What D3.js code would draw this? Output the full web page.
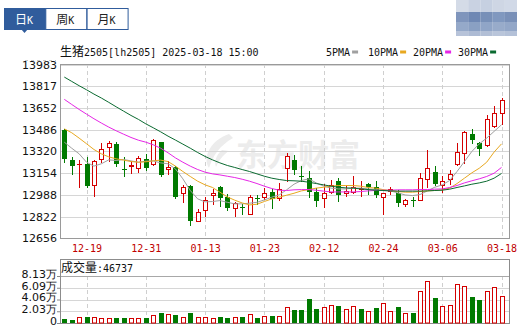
<!DOCTYPE html>
<html>
<head>
<meta charset="utf-8">
<script src="https://cdn.jsdelivr.net/npm/d3@7"></script>
<style>
  body { margin: 0; background: #fff; }
  svg { display: block; }
</style>
</head>
<body>
<svg id="kline" width="517" height="330"></svg>
<script>
// Trading days shown (one candle each)
const dates = ["12-16","12-17","12-18","12-19","12-20","12-23","12-24","12-25","12-26","12-27","12-30","12-31",
  "01-02","01-03","01-06","01-07","01-08","01-09","01-10","01-13","01-14","01-15","01-16","01-17","01-20","01-21","01-22","01-23","01-24","01-27",
  "02-05","02-06","02-07","02-10","02-11","02-12","02-13","02-14","02-17","02-18","02-19","02-20","02-21","02-24","02-25","02-26","02-27","02-28",
  "03-03","03-04","03-05","03-06","03-07","03-10","03-11","03-12","03-13","03-14","03-17","03-18"];

const opens  = [13485,13255,13220,13220,13060,13260,13350,13375,13185,13205,13195,13265,13220,13390,13185,13200,13005,13055,12790,12875,
                12990,13045,12970,12885,12895,12845,12965,12970,13010,12965,13190,13255,13135,13120,13010,12965,13010,13090,13005,13010,
                13030,13070,13045,12970,13020,13005,12920,12950,12950,13110,13160,13060,13105,13220,13305,13455,13380,13365,13510,13610];
const highs  = [13490,13280,13255,13275,13255,13380,13400,13390,13280,13250,13285,13300,13415,13395,13250,13205,13065,13065,12880,12970,
                13035,13055,12995,12935,12920,12990,12990,13040,13030,13080,13305,13290,13205,13170,13040,13070,13100,13120,13065,13130,
                13090,13075,13090,13000,13045,13025,12955,12970,13155,13330,13205,13130,13180,13380,13475,13490,13390,13595,13665,13725];
const lows   = [13240,13150,13050,13045,12980,13235,13250,13205,13130,13155,13160,13180,13215,13135,13145,12965,12930,12760,12785,12825,
                12920,12905,12870,12830,12845,12840,12920,12955,12890,12950,13090,13150,13090,12975,12900,12895,13000,12940,12980,13005,
                12980,12995,12975,12840,12995,12905,12905,12905,12950,13045,13060,13010,13070,13215,13230,13385,13290,13360,13505,13525];
const closes = [13265,13205,13225,13055,13250,13340,13385,13225,13175,13215,13270,13195,13405,13140,13200,12975,13050,12790,12860,12950,
                13005,12965,12885,12925,12885,12975,12955,13000,12955,13035,13285,13180,13125,13010,12940,13000,13065,12990,13015,13045,
                13040,13050,12990,13000,13030,12925,12945,12940,13120,13195,13070,13090,13145,13315,13465,13410,13340,13565,13610,13710];
const volumes = [7500,5770,10380,10960,10380,9230,9230,9230,9230,8650,8080,8080,13270,17890,15580,14420,9810,17890,10960,10960,
                 9230,10960,9230,10960,10960,15580,8650,12120,12690,12120,27700,23080,23080,42120,24810,27700,31160,30000,24810,29430,
                 24810,21350,26540,35200,21350,28270,17310,17310,55970,72700,43280,30000,31160,68090,64620,45580,39240,55970,62320,46737];

// Moving averages
const ma5  = [13390,13344,13301,13237,13207,13225,13255,13250,13258,13247,13237,13245,13247,13232,13225,13186,13110,13021,12957,12934,
              12937,12944,12931,12919,12919,12924,12931,12949,12970,12987,13026,13069,13097,13110,13079,13054,13039,13033,13033,13039,
              13039,13033,13028,13021,13018,13003,12987,12982,12990,13018,13046,13064,13097,13166,13242,13319,13377,13421,13472,13523];
const ma10 = [13492,13462,13421,13378,13334,13301,13278,13263,13253,13242,13237,13240,13247,13253,13242,13207,13166,13128,13092,13064,
              13044,13008,12972,12947,12926,12911,12916,12937,12957,12970,12985,13000,13018,13028,13039,13046,13054,13059,13059,13059,
              13054,13044,13039,13028,13021,13013,13008,13008,13013,13018,13021,13026,13039,13074,13115,13156,13191,13237,13314,13377];
const ma20 = [13717,13678,13640,13604,13569,13536,13505,13477,13451,13426,13405,13390,13370,13344,13309,13270,13237,13207,13181,13161,
              13148,13140,13130,13120,13107,13092,13074,13054,13036,13023,13021,13026,13028,13028,13023,13016,13010,13010,13010,13010,
              13013,13018,13021,13023,13023,13026,13026,13026,13028,13028,13031,13033,13044,13059,13079,13095,13110,13128,13153,13197];
const ma30 = [13887,13854,13821,13790,13757,13727,13694,13660,13627,13594,13564,13530,13500,13469,13436,13406,13375,13344,13311,13281,
              13255,13232,13212,13197,13181,13166,13148,13130,13115,13105,13097,13095,13092,13084,13074,13064,13054,13046,13041,13039,
              13033,13028,13023,13021,13018,13016,13016,13016,13016,13018,13021,13023,13031,13044,13056,13069,13079,13092,13115,13151];

const priceTicks = [13983,13817,13652,13486,13320,13154,12988,12822,12656];
const dateTicks = ["12-19","12-31","01-13","01-23","02-12","02-24","03-06","03-18"];
const volTicks = [0,20325,40650,60975,81300];
const volTickLabels = ["0","2.03万","4.06万","6.09万","8.13万"];
const maNames = ["5PMA","10PMA","20PMA","30PMA"];

const svg = d3.select("#kline");
const UP = "#d40000", DOWN = "#007a00";
const maColors = ["#a0a0a0","#e8a820","#e626e6","#0a6a30"];
const mono = "'DejaVu Sans Mono', monospace";
const cjk = "'Noto Sans CJK SC', sans-serif";
const crisp = v => Math.round(v) + 0.5;

const plotL = 60, plotR = 509, plotT = 64, plotB = 238;
const volBoxTop = 259, volTop = 276, volBottom = 323;

const x = d3.scalePoint().domain(dates).range([64.3, 501.5]);
const y = d3.scaleLinear().domain([12656, 13983]).range([238.3, 64.5]);
const yV = d3.scaleLinear().domain([0, 81300]).range([volBottom, volTop]);

// ---- tabs at top left
const tabs = [["日","K"],["周","K"],["月","K"]];
tabs.forEach((t, i) => {
  const tx = 4 + i * 41.3;
  svg.append("rect").attr("x", tx + 0.5).attr("y", 8.5).attr("width", 41).attr("height", 21)
    .attr("fill", i === 0 ? "#305c9c" : "#fff").attr("stroke", "#305c9c");
  const txt = svg.append("text").attr("x", tx + 11).attr("y", 24).attr("fill", i === 0 ? "#fff" : "#222");
  txt.append("tspan").attr("font-family", cjk).attr("font-size", 12).text(t[0]);
  txt.append("tspan").attr("font-family", mono).attr("font-size", 10).text(t[1]);
});
svg.append("path").attr("d", "M21,29 L28,29 L24.5,33 Z").attr("fill", "#305c9c");

// blurred block at top right
const blurCols = [["#d4dbe7","#c9d2e2","#c6d0e1","#ced6e4","#d1d9e7"],
                  ["#7f95bc","#6f88b4","#7890b8","#8098bf","#7990b8"],
                  ["#95a9c9","#8aa0c3","#90a5c7","#98abca","#93a7c8"],
                  ["#b7c3d9","#adbbd4","#b2bfd6","#b9c5da","#b4c1d8"]];
const blurRows = [[0,12],[12,22],[22,31],[31,36]];
blurCols.forEach((row, r) => row.forEach((c, k) => {
  svg.append("rect").attr("x", 456 + k * 12.2).attr("y", blurRows[r][0])
    .attr("width", 12.3).attr("height", blurRows[r][1] - blurRows[r][0]).attr("fill", c);
}));

svg.append("line").attr("x1", 25).attr("x2", 56).attr("y1", 60.5).attr("y2", 60.5)
  .attr("stroke", "#c8c8c8").attr("stroke-dasharray", "3,3");

// ---- title + legend
const title = svg.append("text").attr("x", 60).attr("y", 56).attr("fill", "#111");
title.append("tspan").attr("font-family", cjk).attr("font-size", 12).text("生猪");
title.append("tspan").attr("font-family", mono).attr("font-size", 10).text("2505[lh2505] 2025-03-18 15:00");

const legendX = [326, 368, 413, 458];
maNames.forEach((n, i) => {
  svg.append("text").attr("x", legendX[i]).attr("y", 56).attr("font-family", mono).attr("font-size", 10)
    .attr("fill", "#111").text(n);
  const w = n.length * 6.02;
  svg.append("rect").attr("x", legendX[i] + w + 2).attr("y", 50.5).attr("width", 6).attr("height", 3)
    .attr("fill", maColors[i]);
});

// ---- watermark
svg.append("path").attr("d", "M229,134 C211,140 202,157 209,168 C213,156 219,146 233,138 Z").attr("fill", "#ececec");
svg.append("path").attr("d", "M222,150 C216,155 214,162 216,167 C219,160 223,155 229,151 Z").attr("fill", "#ececec");
svg.append("text").attr("x", 236).attr("y", 166).attr("font-family", cjk).attr("font-size", 31)
  .attr("font-weight", "bold").attr("fill", "#ececec").text("东方财富");

// ---- main grid
svg.append("g").selectAll("line").data(priceTicks).join("line")
  .attr("x1", plotL).attr("x2", plotR).attr("y1", d => crisp(y(d))).attr("y2", d => crisp(y(d)))
  .attr("stroke", "#d6d6d6");
svg.append("g").selectAll("line").data(dateTicks).join("line")
  .attr("x1", d => crisp(x(d))).attr("x2", d => crisp(x(d))).attr("y1", plotT).attr("y2", plotB)
  .attr("stroke", "#cfcfcf").attr("stroke-dasharray", "4,3");
svg.append("rect").attr("x", plotL + 0.5).attr("y", plotT + 0.5).attr("width", plotR - plotL).attr("height", plotB - plotT)
  .attr("fill", "none").attr("stroke", "#9a9a9a");

// ---- candles
const idx = d3.range(dates.length);
const cg = svg.append("g");
idx.forEach(i => {
  const cx = Math.round(x(dates[i]));
  const up = closes[i] >= opens[i];
  const col = up ? UP : DOWN;
  cg.append("line").attr("x1", cx + 0.5).attr("x2", cx + 0.5)
    .attr("y1", Math.round(y(highs[i]))).attr("y2", Math.round(y(lows[i])) + 1).attr("stroke", col);
  const yTop = Math.round(y(Math.max(opens[i], closes[i])));
  const yBot = Math.round(y(Math.min(opens[i], closes[i])));
  if (up) {
    cg.append("rect").attr("x", cx - 1.5).attr("y", yTop + 0.5).attr("width", 4)
      .attr("height", Math.max(yBot - yTop, 0.01)).attr("fill", "#fff").attr("stroke", col);
  } else {
    cg.append("rect").attr("x", cx - 2).attr("y", yTop).attr("width", 5)
      .attr("height", Math.max(yBot - yTop, 1)).attr("fill", col);
  }
});

// ---- moving averages
const maLine = d3.line().x((d, i) => x(dates[i])).y(d => y(d));
[ma5, ma10, ma20, ma30].forEach((s, k) => {
  svg.append("path").datum(s).attr("d", maLine).attr("fill", "none")
    .attr("stroke", maColors[k]).attr("stroke-width", 1);
});

// ---- axes
svg.append("g").attr("transform", "translate(57,0)")
  .call(d3.axisLeft(y).tickValues(priceTicks).tickSize(0).tickPadding(0).tickFormat(d3.format("d")))
  .call(g => g.select(".domain").remove())
  .selectAll("text").attr("font-family", "'DejaVu Sans', sans-serif").attr("font-size", 11).attr("fill", "#111");

svg.append("g").attr("transform", `translate(0,${plotB})`)
  .call(d3.axisBottom(x).tickValues(dateTicks).tickSize(0).tickPadding(7))
  .call(g => g.select(".domain").remove())
  .selectAll("text").attr("font-family", mono).attr("font-size", 10).attr("fill", "#c00000");

// ---- volume panel
svg.append("g").selectAll("line").data(volTicks.slice(1, 4)).join("line")
  .attr("x1", plotL).attr("x2", plotR).attr("y1", d => crisp(yV(d))).attr("y2", d => crisp(yV(d)))
  .attr("stroke", "#d6d6d6");
svg.append("g").selectAll("line").data(dateTicks).join("line")
  .attr("x1", d => crisp(x(d))).attr("x2", d => crisp(x(d))).attr("y1", volTop).attr("y2", volBottom)
  .attr("stroke", "#cfcfcf").attr("stroke-dasharray", "4,3");
svg.append("line").attr("x1", plotL).attr("x2", plotR).attr("y1", volTop + 0.5).attr("y2", volTop + 0.5)
  .attr("stroke", "#a8a8a8");
svg.append("rect").attr("x", plotL + 0.5).attr("y", volBoxTop + 0.5).attr("width", plotR - plotL)
  .attr("height", volBottom - volBoxTop).attr("fill", "none").attr("stroke", "#8c8c8c");

const vt = svg.append("text").attr("x", 61).attr("y", 271.5).attr("fill", "#111");
vt.append("tspan").attr("font-family", cjk).attr("font-size", 12).text("成交量");
vt.append("tspan").attr("font-family", mono).attr("font-size", 10).text(":" + volumes[volumes.length - 1]);

const vg = svg.append("g");
idx.forEach(i => {
  const cx = Math.round(x(dates[i]));
  const up = i > 0 && closes[i] >= closes[i - 1];
  const yT = Math.round(yV(volumes[i]));
  if (up) {
    vg.append("rect").attr("x", cx - 1.5).attr("y", yT + 0.5).attr("width", 4)
      .attr("height", volBottom - yT - 0.5).attr("fill", "#fff").attr("stroke", UP);
  } else {
    vg.append("rect").attr("x", cx - 2).attr("y", yT).attr("width", 5)
      .attr("height", volBottom - yT).attr("fill", DOWN);
  }
});

svg.append("g").attr("transform", "translate(60,0)")
  .call(d3.axisLeft(yV).tickValues(volTicks).tickSize(3).tickPadding(0).tickFormat((d, i) => volTickLabels[i]))
  .call(g => g.select(".domain").remove())
  .call(g => g.selectAll("line").attr("stroke", "#888"))
  .selectAll("text").attr("dy", "0.12em").attr("font-family", "'DejaVu Sans', sans-serif")
  .attr("font-size", 11).attr("fill", "#111");
</script>
</body>
</html>
